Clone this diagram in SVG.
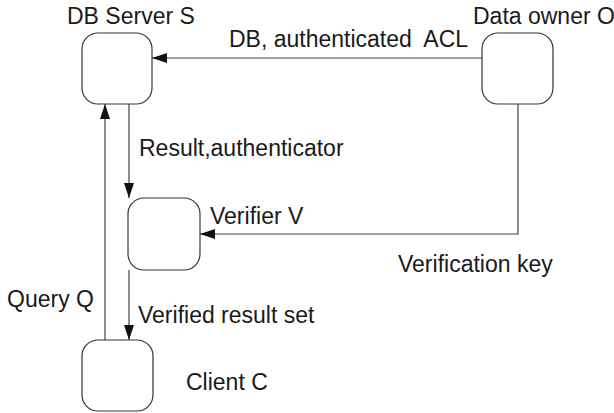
<svg xmlns="http://www.w3.org/2000/svg" width="614" height="413" viewBox="0 0 614 413">
<style>
.node{fill:#fff;stroke:#333;stroke-width:1.2}
.lbl{font-family:"Liberation Sans",Arial,sans-serif;font-size:23px;fill:#1a1a1a;white-space:pre}
.edge{fill:none;stroke:#444;stroke-width:1.2}
</style>
<defs>
<marker id="ah" markerUnits="userSpaceOnUse" markerWidth="16" markerHeight="11" refX="15" refY="5" orient="auto">
<path d="M0,0 L15,5 L0,10 z" fill="#111"/>
</marker>
</defs>
<rect width="614" height="413" fill="#fff"/>
<g id="connectors">
<line class="edge" x1="482" y1="58" x2="152" y2="58" marker-end="url(#ah)"/>
<line class="edge" x1="129" y1="104" x2="129" y2="198" marker-end="url(#ah)"/>
<polyline class="edge" points="518,104 518,234 200,234" marker-end="url(#ah)"/>
<line class="edge" x1="129" y1="270" x2="129" y2="340" marker-end="url(#ah)"/>
<line class="edge" x1="105" y1="340" x2="105" y2="104" marker-end="url(#ah)"/>
<text class="lbl" x="229" y="47" xml:space="preserve">DB, authenticated  ACL</text>
<text class="lbl" x="139" y="156">Result,authenticator</text>
<text class="lbl" x="398" y="272">Verification key</text>
<text class="lbl" x="7" y="307">Query Q</text>
<text class="lbl" x="138" y="323">Verified result set</text>
</g>
<g id="server">
<rect class="node" x="82" y="33" width="70" height="71" rx="16"/>
<text class="lbl" x="67" y="24">DB Server S</text>
</g>
<g id="owner">
<rect class="node" x="482" y="33" width="71" height="71" rx="16"/>
<text class="lbl" x="473" y="24">Data owner O</text>
</g>
<g id="verifier">
<rect class="node" x="128" y="198" width="72" height="72" rx="16"/>
<text class="lbl" x="210" y="224">Verifier V</text>
</g>
<g id="client">
<rect class="node" x="82" y="340" width="71" height="71" rx="16"/>
<text class="lbl" x="186" y="390">Client C</text>
</g>
</svg>
